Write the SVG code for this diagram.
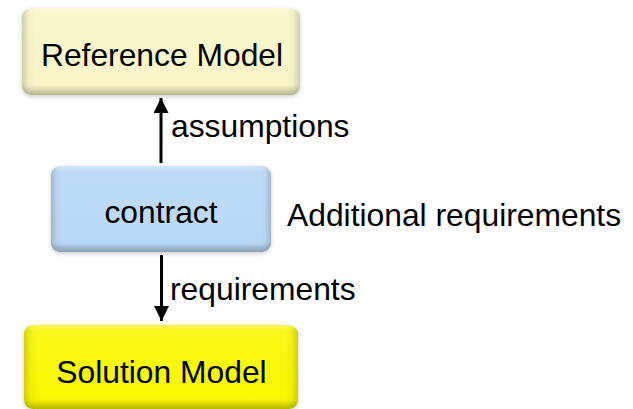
<svg xmlns="http://www.w3.org/2000/svg" width="633" height="409" viewBox="0 0 633 409">
  <style>
    .label { font-family: "Liberation Sans", Arial, sans-serif; font-size: 31.8px; fill: #000; }
    .mid { text-anchor: middle; }
    .conn { stroke: #000; stroke-width: 3; fill: none; }
  </style>
  <defs>
    <!-- soft halo under each box -->
    <filter id="soft" x="-10%" y="-20%" width="120%" height="140%">
      <feDropShadow dx="0" dy="1.5" stdDeviation="2" flood-color="#000" flood-opacity="0.2"/>
    </filter>
    <!-- bevel: light top, darker bottom band -->
    <linearGradient id="bevelV" x1="0" y1="0" x2="0" y2="1">
      <stop offset="0" stop-color="#fff" stop-opacity="0.35"/>
      <stop offset="0.07" stop-color="#fff" stop-opacity="0.1"/>
      <stop offset="0.86" stop-color="#fff" stop-opacity="0"/>
      <stop offset="0.93" stop-color="#000" stop-opacity="0.1"/>
      <stop offset="1" stop-color="#000" stop-opacity="0.26"/>
    </linearGradient>
    <!-- bevel: darker side edges -->
    <linearGradient id="bevelH" x1="0" y1="0" x2="1" y2="0">
      <stop offset="0" stop-color="#000" stop-opacity="0.16"/>
      <stop offset="0.025" stop-color="#000" stop-opacity="0.03"/>
      <stop offset="0.05" stop-color="#000" stop-opacity="0"/>
      <stop offset="0.95" stop-color="#000" stop-opacity="0"/>
      <stop offset="0.975" stop-color="#000" stop-opacity="0.03"/>
      <stop offset="1" stop-color="#000" stop-opacity="0.16"/>
    </linearGradient>
    <marker id="head" viewBox="0 0 10 10" refX="10" refY="5" markerWidth="5" markerHeight="5" markerUnits="strokeWidth" orient="auto">
      <path d="M0,0 L10,5 L0,10 Z" fill="#000"/>
    </marker>
  </defs>

  <g id="reference-model">
    <rect x="22" y="8" width="278" height="87" rx="9" fill="#f8f6c8" filter="url(#soft)"/>
    <rect x="22" y="8" width="278" height="87" rx="9" fill="url(#bevelV)"/>
    <rect x="22" y="8" width="278" height="87" rx="9" fill="url(#bevelH)"/>
    <text class="label mid" x="162" y="66">Reference Model</text>
  </g>

  <g id="contract">
    <rect x="51" y="166" width="220" height="86" rx="9" fill="#b9d8f5" filter="url(#soft)"/>
    <rect x="51" y="166" width="220" height="86" rx="9" fill="url(#bevelV)"/>
    <rect x="51" y="166" width="220" height="86" rx="9" fill="url(#bevelH)"/>
    <text class="label mid" x="161" y="223">contract</text>
  </g>

  <g id="solution-model">
    <rect x="24" y="325" width="274" height="84" rx="9" fill="#f7f700" filter="url(#soft)"/>
    <rect x="24" y="325" width="274" height="84" rx="9" fill="url(#bevelV)"/>
    <rect x="24" y="325" width="274" height="84" rx="9" fill="url(#bevelH)"/>
    <text class="label mid" x="161.5" y="383">Solution Model</text>
  </g>

  <g id="additional-requirements">
    <text class="label" x="287" y="226">Additional requirements</text>
  </g>

  <g id="connectors">
    <line class="conn" x1="161" y1="163" x2="161" y2="98" marker-end="url(#head)"/>
    <text class="label" x="171" y="137">assumptions</text>
    <line class="conn" x1="161.5" y1="255" x2="161.5" y2="321" marker-end="url(#head)"/>
    <text class="label" x="170" y="300">requirements</text>
  </g>
</svg>
